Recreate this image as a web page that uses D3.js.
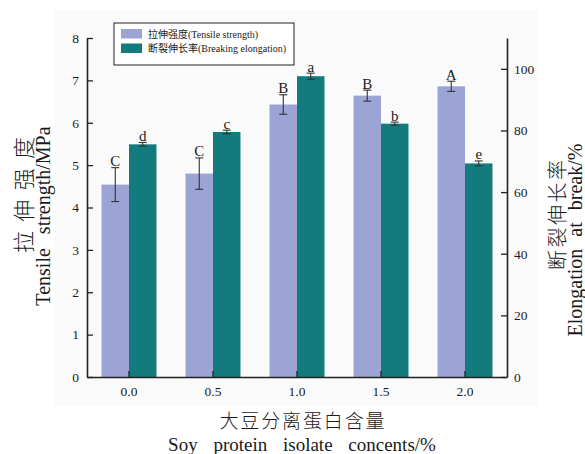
<!DOCTYPE html>
<html>
<head>
<meta charset="utf-8">
<script src="https://cdn.jsdelivr.net/npm/d3@7"></script>
<style>
  html, body { margin: 0; padding: 0; background: #ffffff; }
  svg { display: block; }
  text { font-family: "Liberation Serif", "Times New Roman", "Noto Sans CJK SC", serif; fill: #1a1a1a; }
  .cjk { font-family: "Noto Sans CJK SC", "Liberation Serif", serif; font-weight: 300; }
</style>
</head>
<body>
<svg id="chart" width="585" height="454"></svg>
<script>
// Soy protein isolate content (%)
const categories = ["0.0", "0.5", "1.0", "1.5", "2.0"];
// Tensile strength (MPa) with standard deviation
const tensile = [4.54, 4.80, 6.43, 6.64, 6.86];
const tensileErr = [0.40, 0.37, 0.23, 0.13, 0.12];
const tensileLetters = ["C", "C", "B", "B", "A"];
// Elongation at break (%) with standard deviation
const elongation = [75.5, 79.5, 97.6, 82.2, 69.3];
const elongationErr = [0.6, 0.6, 1.0, 0.5, 0.8];
const elongationLetters = ["d", "c", "a", "b", "e"];
// Axis ticks
const leftTicks = [0, 1, 2, 3, 4, 5, 6, 7, 8];
const rightTicks = [0, 20, 40, 60, 80, 100];

const svg = d3.select("#chart");
const plot = { left: 87, right: 507, top: 38, bottom: 377 };

const colTensile = "#9ca4d5";
const colElong = "#137b7e";
const axisColor = "#222222";

// faint panel behind the figure
svg.append("rect")
  .attr("x", 55).attr("y", 10).attr("width", 482).attr("height", 396)
  .attr("fill", "#fafafa");

const x = d3.scaleBand().domain(categories).range([plot.left, plot.right]).paddingInner(0).paddingOuter(0);
const xInner = d3.scaleBand().domain(["t", "e"])
  .range([x.bandwidth() * 0.173, x.bandwidth() * 0.827]);
const yL = d3.scaleLinear().domain([0, 8]).range([plot.bottom, plot.top]);
const yR = d3.scaleLinear().domain([0, 110]).range([plot.bottom, plot.top]);

// bars
const g = svg.append("g");
g.selectAll("rect.t").data(categories).join("rect")
  .attr("class", "t")
  .attr("x", d => x(d) + xInner("t"))
  .attr("width", xInner.bandwidth())
  .attr("y", (d, i) => yL(tensile[i]))
  .attr("height", (d, i) => yL(0) - yL(tensile[i]))
  .attr("fill", colTensile);

g.selectAll("rect.e").data(categories).join("rect")
  .attr("class", "e")
  .attr("x", d => x(d) + xInner("e"))
  .attr("width", xInner.bandwidth())
  .attr("y", (d, i) => yR(elongation[i]))
  .attr("height", (d, i) => yR(0) - yR(elongation[i]))
  .attr("fill", colElong);

// error bars with significance letters
function errorBars(key, vals, errs, scale, letters) {
  const grp = svg.append("g").attr("stroke", "#333").attr("stroke-width", 1.1);
  categories.forEach((c, i) => {
    const cx = x(c) + xInner(key) + xInner.bandwidth() / 2;
    const yt = scale(vals[i] + errs[i]);
    const yb = scale(vals[i] - errs[i]);
    grp.append("line").attr("x1", cx).attr("x2", cx).attr("y1", yt).attr("y2", yb);
    grp.append("line").attr("x1", cx - 4).attr("x2", cx + 4).attr("y1", yt).attr("y2", yt);
    grp.append("line").attr("x1", cx - 4).attr("x2", cx + 4).attr("y1", yb).attr("y2", yb);
    svg.append("text")
      .attr("x", cx).attr("y", yt - 1.5)
      .attr("text-anchor", "middle")
      .attr("font-size", 15)
      .text(letters[i]);
  });
}
errorBars("t", tensile, tensileErr, yL, tensileLetters);
errorBars("e", elongation, elongationErr, yR, elongationLetters);

// axes
const axL = svg.append("g").attr("transform", `translate(${plot.left},0)`)
  .call(d3.axisLeft(yL).tickValues(leftTicks).tickFormat(d3.format("d")).tickSize(-6).tickSizeOuter(0).tickPadding(8));
const axR = svg.append("g").attr("transform", `translate(${plot.right},0)`)
  .call(d3.axisRight(yR).tickValues(rightTicks).tickFormat(d3.format("d")).tickSize(-6).tickSizeOuter(0).tickPadding(7));
const axB = svg.append("g").attr("transform", `translate(0,${plot.bottom})`)
  .call(d3.axisBottom(x).tickSize(-6).tickSizeOuter(0).tickPadding(9));

[axL, axR, axB].forEach(a => {
  a.selectAll("path.domain").attr("stroke", axisColor).attr("stroke-width", 1.6);
  a.selectAll(".tick line").attr("stroke", axisColor).attr("stroke-width", 1.3);
  a.selectAll(".tick text").attr("font-size", 13.5).attr("fill", "#1a1a1a")
    .style("font-family", "'Liberation Serif', serif");
});

// legend
const lg = svg.append("g");
lg.append("rect").attr("x", 114).attr("y", 23).attr("width", 180).attr("height", 42)
  .attr("fill", "#ffffff").attr("stroke", "#222").attr("stroke-width", 1);
const legendItems = [
  { label: "拉伸强度(Tensile strength)", color: colTensile },
  { label: "断裂伸长率(Breaking elongation)", color: colElong }
];
legendItems.forEach((it, i) => {
  const yy = 29 + i * 14.5;
  lg.append("rect").attr("x", 121).attr("y", yy).attr("width", 21).attr("height", 9.5).attr("fill", it.color);
  lg.append("text").attr("x", 148).attr("y", yy + 8.5)
    .attr("font-size", 10)
    .text(it.label);
});

// axis titles: CJK lines spread with letter spacing, Latin lines with word spacing
function cjkTitle(txt, cx, cy, size, rot, len) {
  return svg.append("text")
    .attr("class", "cjk")
    .attr("transform", `translate(${cx},${cy}) rotate(${rot})`)
    .attr("text-anchor", "middle")
    .attr("dominant-baseline", "central")
    .attr("font-size", size)
    .attr("textLength", len)
    .attr("lengthAdjust", "spacing")
    .text(txt);
}
function latinTitle(txt, cx, cy, size, rot, ws) {
  return svg.append("text")
    .attr("transform", `translate(${cx},${cy}) rotate(${rot})`)
    .attr("text-anchor", "middle")
    .attr("dominant-baseline", "central")
    .attr("font-size", size)
    .style("word-spacing", ws + "px")
    .text(txt);
}
cjkTitle("拉伸强度", 22, 195, 22, -90, 116);
latinTitle("Tensile strength/MPa", 43, 216, 20, -90, 9);
cjkTitle("断裂伸长率", 556, 215, 20, -90, 110);
latinTitle("Elongation at break/%", 575, 240, 20, -90, 7);
cjkTitle("大豆分离蛋白含量", 302, 419, 19, 0, 165);
latinTitle("Soy protein isolate concents/%", 302, 444, 19, 0, 11);
</script>
</body>
</html>
